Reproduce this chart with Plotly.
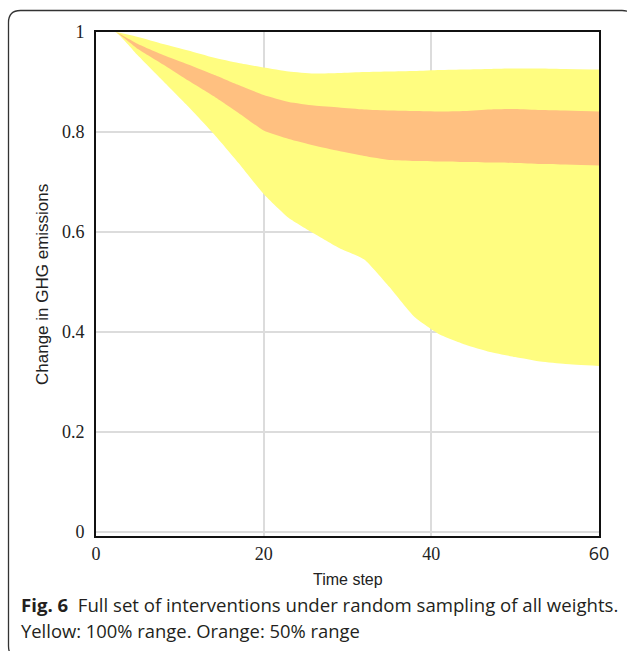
import plotly.graph_objects as go

# ---- data ----
time_step = [0, 2.3, 5, 8, 11, 14, 17, 20, 23, 26, 29, 32, 35, 38, 41, 44, 47, 50, 53, 56, 60]
yellow_upper = [1.0, 1.0, 0.990, 0.976, 0.963, 0.949, 0.938, 0.929, 0.921, 0.917, 0.918, 0.920,
                0.921, 0.922, 0.924, 0.925, 0.926, 0.927, 0.927, 0.926, 0.925]
orange_upper = [1.0, 1.0, 0.976, 0.954, 0.935, 0.915, 0.894, 0.874, 0.860, 0.853, 0.849, 0.845,
                0.843, 0.842, 0.841, 0.842, 0.845, 0.846, 0.844, 0.843, 0.841]
orange_lower = [1.0, 1.0, 0.966, 0.935, 0.903, 0.872, 0.838, 0.803, 0.786, 0.773, 0.762, 0.752,
                0.744, 0.742, 0.741, 0.740, 0.739, 0.738, 0.736, 0.735, 0.733]
yellow_lower = [1.0, 1.0, 0.953, 0.902, 0.851, 0.797, 0.738, 0.676, 0.628, 0.597, 0.568, 0.545,
                0.490, 0.430, 0.395, 0.375, 0.360, 0.350, 0.341, 0.336, 0.332]

x_tick_vals = [0, 20, 40, 60]
x_tick_text = ["0", "20", "40", '<span style="font-family:Open Sans">60</span>']
y_tick_vals = [0, 0.2, 0.4, 0.6, 0.8, 1]
y_tick_text = ["0", "0.2", "0.4", "0.6", "0.8", "1"]

YELLOW = "#FFFD80"
ORANGE = "#FFC080"

line_kw = dict(width=0, shape="spline", smoothing=0.5)

fig = go.Figure()
fig.add_trace(go.Scatter(x=time_step, y=yellow_lower, mode="lines",
                         line=dict(color=YELLOW, **line_kw), showlegend=False, hoverinfo="skip"))
fig.add_trace(go.Scatter(x=time_step, y=yellow_upper, mode="lines", fill="tonexty",
                         fillcolor=YELLOW, line=dict(color=YELLOW, **line_kw),
                         showlegend=False, hoverinfo="skip"))
fig.add_trace(go.Scatter(x=time_step, y=orange_lower, mode="lines",
                         line=dict(color=ORANGE, **line_kw), showlegend=False, hoverinfo="skip"))
fig.add_trace(go.Scatter(x=time_step, y=orange_upper, mode="lines", fill="tonexty",
                         fillcolor=ORANGE, line=dict(color=ORANGE, **line_kw),
                         showlegend=False, hoverinfo="skip"))

L, R, T, B = 96, 28, 32, 115
W, H = 627, 651
pw, ph = W - L - R, H - T - B


def px(xp):
    return (xp - L) / pw


def py(yp):
    return (H - B - yp) / ph


tick_font = dict(family="Liberation Serif", size=18, color="#222222")
fig.update_xaxes(range=[0, 60], tickvals=x_tick_vals, ticktext=x_tick_text,
                 showline=True, linecolor="#111111", linewidth=2, mirror=True,
                 showgrid=True, gridcolor="#dcdcdc", gridwidth=1.5,
                 zeroline=False, ticks="", tickfont=tick_font, ticklabelstandoff=0)
fig.update_yaxes(range=[-0.008, 1.0], tickvals=y_tick_vals, ticktext=y_tick_text,
                 showline=True, linecolor="#111111", linewidth=2, mirror=True,
                 showgrid=True, gridcolor="#dcdcdc", gridwidth=1.5,
                 zeroline=False, ticks="", tickfont=tick_font, ticklabelstandoff=6)

border = (f"M {px(20.5)},{py(658)} Q {px(8.5)},{py(658)} {px(8.5)},{py(646)} "
          f"L {px(8.5)},{py(22.5)} Q {px(8.5)},{py(10.5)} {px(20.5)},{py(10.5)} "
          f"L {px(622)},{py(10.5)} Q {px(634)},{py(10.5)} {px(634)},{py(22.5)} "
          f"L {px(634)},{py(658)}")
fig.add_shape(type="path", xref="paper", yref="paper", path=border,
              line=dict(color="#333333", width=1.3), layer="above")

fig.add_annotation(x=0.5, y=py(579), xref="paper", yref="paper", text="Time step",
                   showarrow=False, xanchor="center", yanchor="middle",
                   font=dict(family="Liberation Sans", size=16, color="#222222"))
fig.add_annotation(x=px(42), y=py(285), xref="paper", yref="paper",
                   text="Change in GHG emissions", textangle=-90,
                   showarrow=False, xanchor="center", yanchor="middle",
                   font=dict(family="Liberation Sans", size=17, color="#222222"))
fig.add_annotation(x=px(19), y=py(604), xref="paper", yref="paper",
                   text="<b>Fig. 6</b>&nbsp;&nbsp;Full set of interventions under random sampling of all weights.",
                   showarrow=False, xanchor="left", yanchor="middle",
                   font=dict(family="Open Sans", size=18.6, color="#231f20"))
fig.add_annotation(x=px(19), y=py(630), xref="paper", yref="paper",
                   text="Yellow: 100% range. Orange: 50% range",
                   showarrow=False, xanchor="left", yanchor="middle",
                   font=dict(family="Open Sans", size=18.4, color="#231f20"))

fig.update_layout(width=W, height=H, margin=dict(l=L, r=R, t=T, b=B),
                  paper_bgcolor="white", plot_bgcolor="white", showlegend=False)

fig.write_html("out.html")
